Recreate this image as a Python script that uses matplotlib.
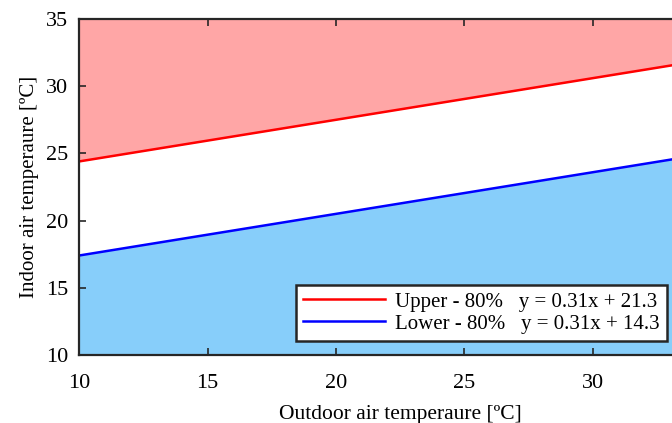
import matplotlib
matplotlib.use("Agg")
import matplotlib.pyplot as plt

# ---------- data ----------
x_out = [10, 35]
upper = [24.4, 32.15]   # y = 0.31x + 21.3
lower = [17.4, 25.15]   # y = 0.31x + 14.3
y_min, y_max = 10, 35
x_ticks = [10, 15, 20, 25, 30]
y_ticks = [10, 15, 20, 25, 30, 35]

plt.rcParams["font.family"] = ["Liberation Serif", "DejaVu Serif"]
plt.rcParams["font.size"] = 16

fig = plt.figure(figsize=(6.72, 4.23), dpi=100)
ax = fig.add_axes([0.1176, 0.1608, 0.956, 0.7943])

ax.fill_between(x_out, upper, [y_max, y_max], color="#FFA6A6", lw=0)
ax.fill_between(x_out, [y_min, y_min], lower, color="#87CEFA", lw=0)
ax.plot(x_out, upper, color="red", lw=1.8, label="Upper - 80%   y = 0.31x + 21.3")
ax.plot(x_out, lower, color="blue", lw=1.8, label="Lower - 80%   y = 0.31x + 14.3")

ax.set_xlim(10, 35)
ax.set_ylim(y_min, y_max)
ax.set_xticks(x_ticks)
ax.set_yticks(y_ticks)
ax.tick_params(direction="in", length=5, width=1.2, top=True, right=True,
               colors="#262626", labelcolor="black", labelsize=16)
ax.tick_params(axis="x", pad=14)
ax.tick_params(axis="y", pad=8)
for s in ax.spines.values():
    s.set_linewidth(1.6)
    s.set_color("#262626")

ax.set_xlabel("Outdoor air temperaure [ºC]", fontsize=15.5, labelpad=8)
ax.set_ylabel("Indoor air temperaure [ºC]", fontsize=15, labelpad=5)

leg = ax.legend(loc="lower right", bbox_to_anchor=(667/672, (423-341)/423),
                bbox_transform=fig.transFigure, fancybox=False, framealpha=1,
                edgecolor="#262626", fontsize=15, handlelength=3.9,
                borderpad=0.35, labelspacing=0.12, handletextpad=0.5,
                borderaxespad=0)
leg.get_frame().set_linewidth(1.8)

fig.savefig("out.png", dpi=100)
